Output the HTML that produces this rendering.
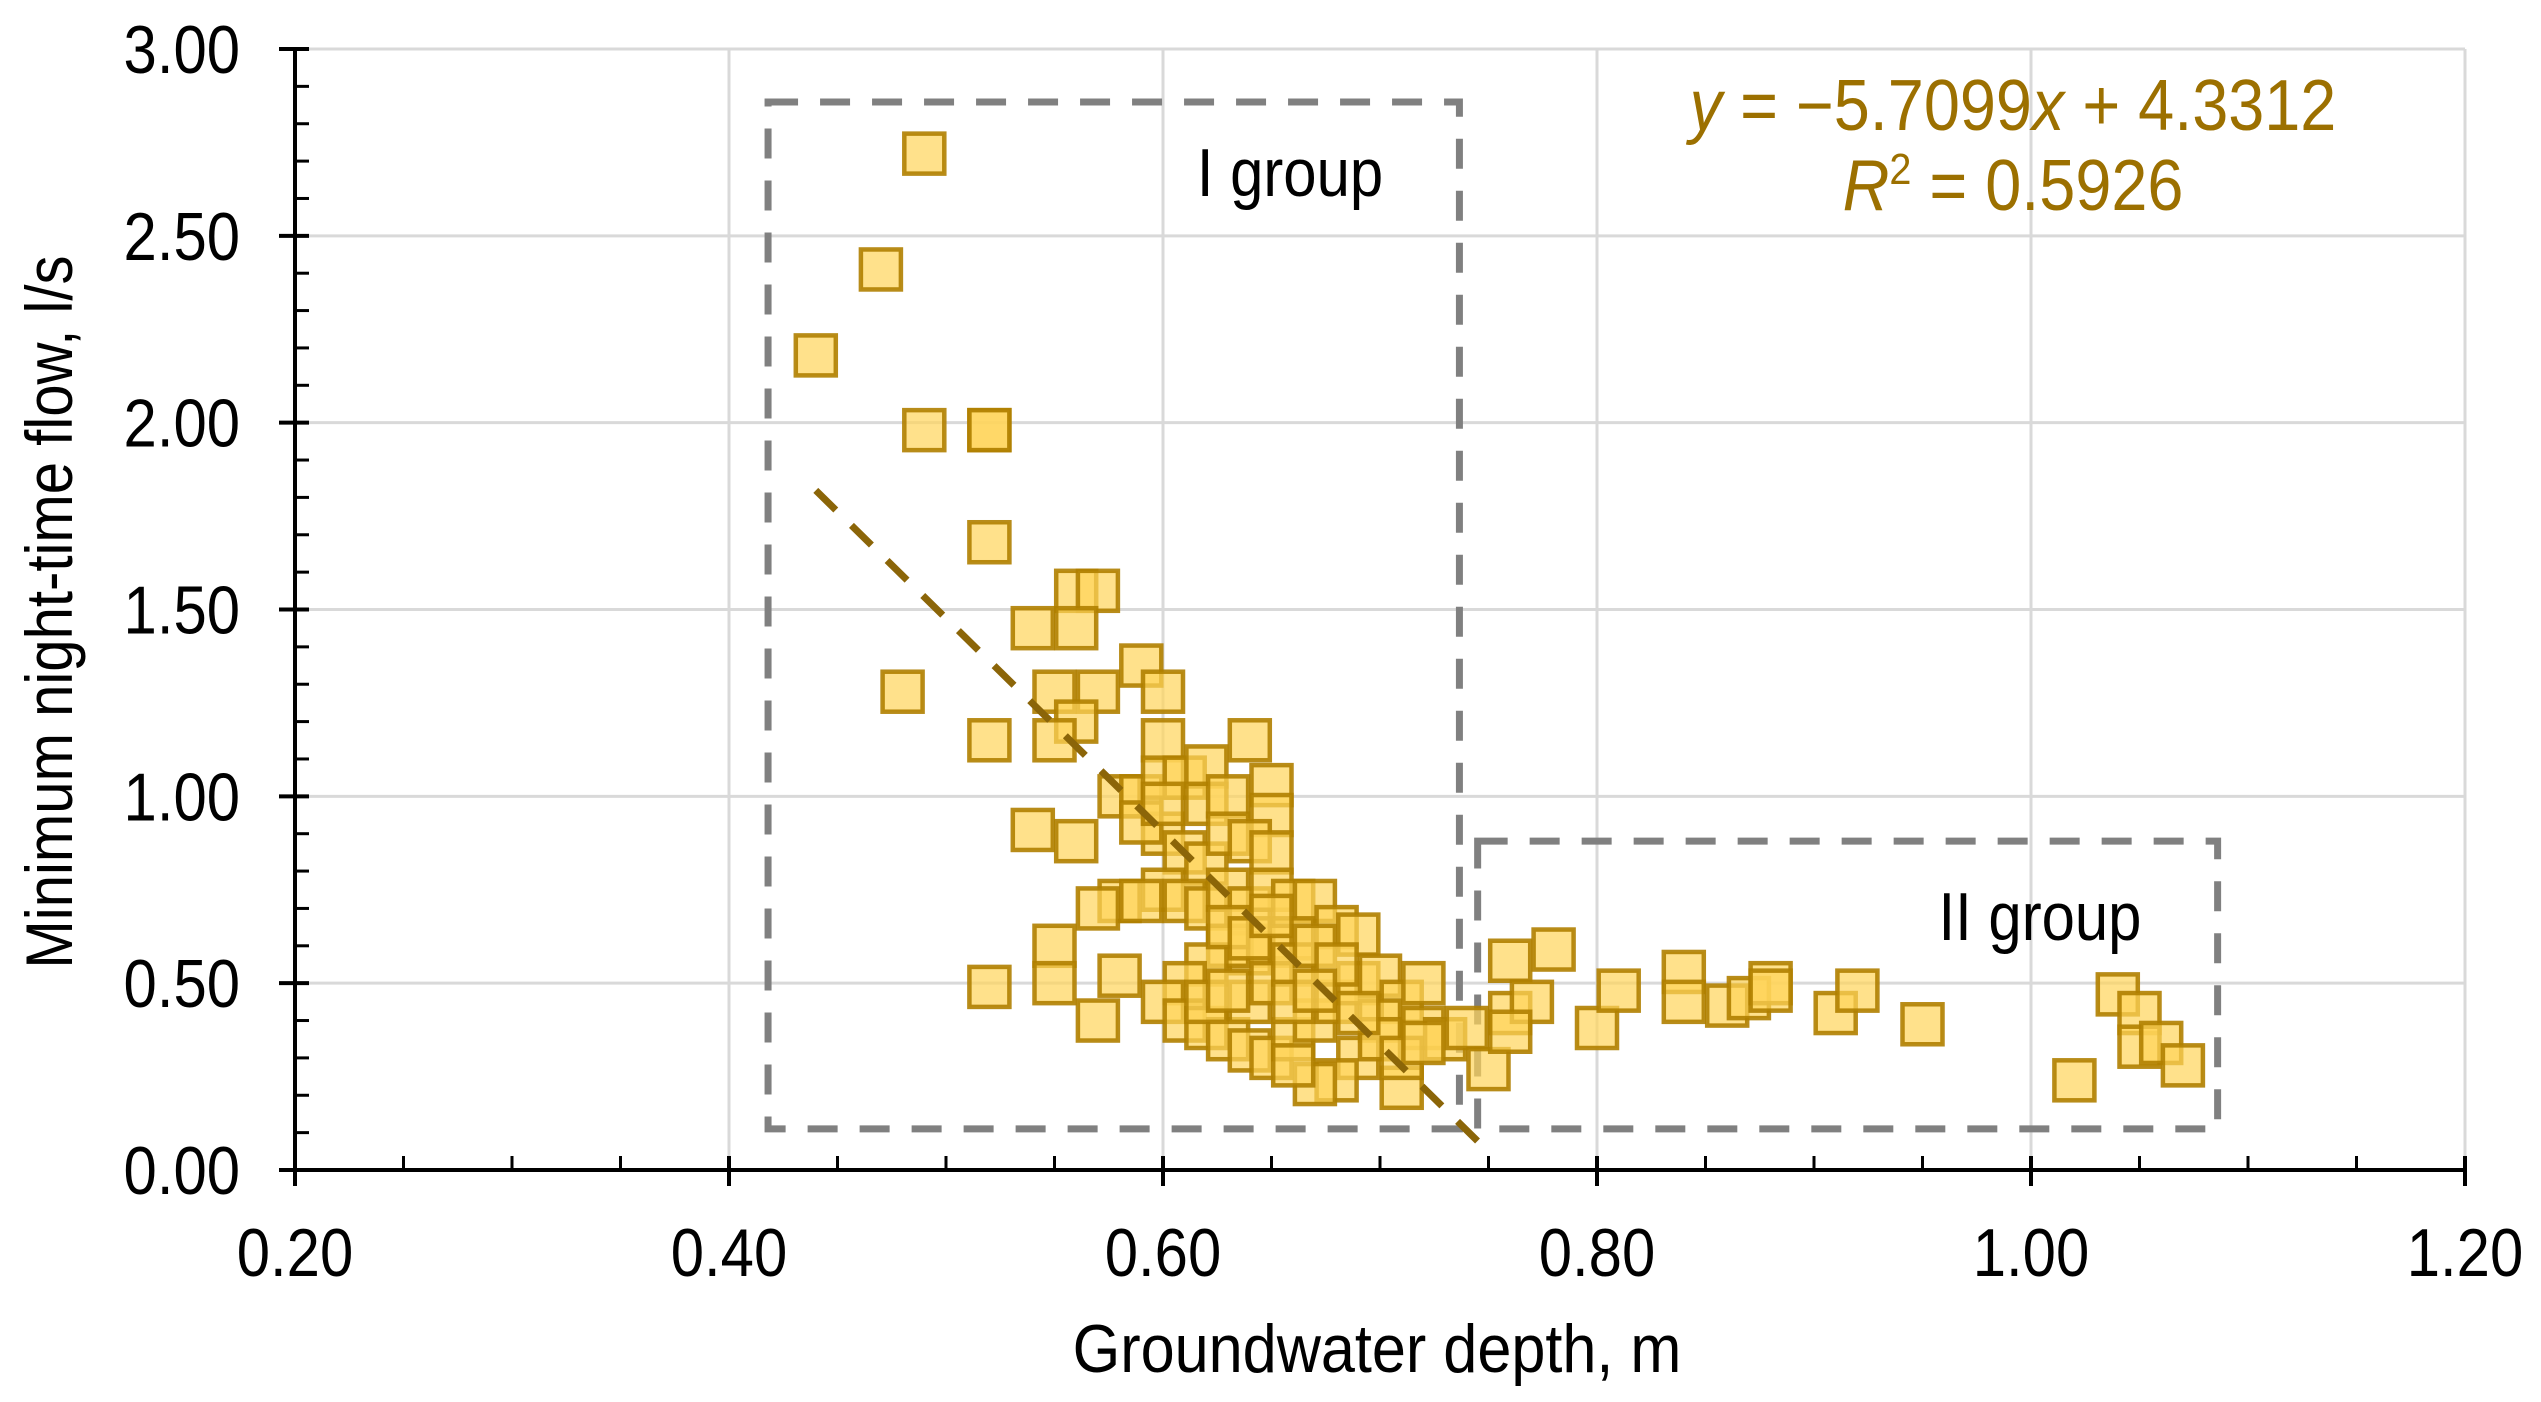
<!DOCTYPE html>
<html><head><meta charset="utf-8"><style>
html,body{margin:0;padding:0;background:#fff;}
svg{display:block;font-family:"Liberation Sans",sans-serif;}
</style></head><body>
<svg id="chart" width="2541" height="1402" viewBox="0 0 2541 1402" xmlns="http://www.w3.org/2000/svg">
<g id="grid"></g>
<g id="boxes"></g>
<g id="points"></g>
<g id="trend"></g>
<g id="axes"></g>
<text font-size="68" text-anchor="middle" fill="#000" transform="translate(1290,196) scale(0.88,1)">I group</text>
<text font-size="68" text-anchor="middle" fill="#000" transform="translate(2040,940) scale(0.88,1)">II group</text>
<text font-size="72" text-anchor="middle" fill="#9C7000" transform="translate(2013,130) scale(0.9,1)"><tspan font-style="italic">y</tspan> = −5.7099<tspan font-style="italic">x</tspan> + 4.3312</text>
<text font-size="72" text-anchor="middle" fill="#9C7000" transform="translate(2013,210) scale(0.9,1)"><tspan font-style="italic">R</tspan><tspan font-size="44" dy="-26">2</tspan><tspan dy="26"> = 0.5926</tspan></text>
<text font-size="68" text-anchor="middle" fill="#000" transform="translate(1377,1372) scale(0.9,1)">Groundwater depth, m</text>
<text font-size="66" text-anchor="middle" fill="#000" transform="translate(72,612) rotate(-90) scale(0.88,1)">Minimum night-time flow, l/s</text>
</svg>
<script>
const xTicks = [0.2,0.4,0.6,0.8,1.0,1.2];
const xTickLabels = ["0.20","0.40","0.60","0.80","1.00","1.20"];
const yTicks = [0,0.5,1,1.5,2,2.5,3];
const yTickLabels = ["0.00","0.50","1.00","1.50","2.00","2.50","3.00"];
const depthX = [0.49,0.47,0.44,0.49,0.52,0.52,0.52,0.56,0.57,0.56,0.54,0.48,0.59,0.60,0.55,0.57,0.56,0.52,0.55,0.60,0.64,0.54,0.56,0.58,0.59,0.60,0.61,0.62,0.62,0.63,0.65,0.65,0.60,0.61,0.62,0.63,0.64,0.65,0.60,0.58,0.57,0.59,0.61,0.62,0.63,0.64,0.65,0.66,0.67,0.68,0.69,0.66,0.65,0.64,0.63,0.62,0.61,0.60,0.61,0.62,0.63,0.64,0.65,0.66,0.67,0.68,0.69,0.70,0.71,0.72,0.73,0.72,0.70,0.69,0.68,0.67,0.71,0.64,0.65,0.66,0.67,0.68,0.62,0.63,0.66,0.67,0.55,0.55,0.52,0.57,0.58,0.74,0.75,0.76,0.76,0.77,0.78,0.76,0.80,0.81,0.84,0.84,0.86,0.87,0.88,0.88,0.91,0.92,0.95,1.02,1.04,1.05,1.05,1.06,1.07,0.59,0.60,0.63,0.64,0.65,0.70,0.71,0.66,0.69,0.72];
const flowY = [2.72,2.41,2.18,1.98,1.98,1.98,1.68,1.55,1.55,1.45,1.45,1.28,1.35,1.28,1.28,1.28,1.20,1.15,1.15,1.15,1.15,0.91,0.88,1.00,1.00,1.05,1.05,1.08,0.98,1.00,1.03,0.95,0.90,0.85,0.82,0.90,0.88,0.85,0.75,0.72,0.70,0.72,0.72,0.70,0.75,0.70,0.75,0.72,0.72,0.65,0.63,0.62,0.60,0.58,0.60,0.55,0.50,0.45,0.40,0.38,0.35,0.32,0.30,0.35,0.40,0.45,0.50,0.52,0.45,0.38,0.35,0.50,0.40,0.30,0.24,0.23,0.22,0.45,0.50,0.55,0.60,0.55,0.45,0.48,0.45,0.48,0.60,0.50,0.49,0.40,0.52,0.38,0.27,0.56,0.42,0.45,0.59,0.37,0.38,0.48,0.53,0.45,0.44,0.46,0.50,0.48,0.42,0.48,0.39,0.24,0.47,0.42,0.33,0.34,0.28,0.93,0.98,0.65,0.62,0.68,0.35,0.30,0.28,0.42,0.34];
const trendSlope = -5.7099, trendIntercept = 4.3312;
const trendRange = [0.44, 0.745];
const groupI = [0.418, 0.7366, 0.11, 2.858];
const groupII = [0.745, 1.086, 0.11, 0.88];

const X0=295, X1=2465, Y0=1170, Y1=49;
const sx = v => X0 + (v-0.2)/(1.2-0.2)*(X1-X0);
const sy = v => Y0 - v/3*(Y0-Y1);
const NS="http://www.w3.org/2000/svg";
function mk(tag, attrs, parent){const e=document.createElementNS(NS,tag);for(const k in attrs)e.setAttribute(k,attrs[k]);parent.appendChild(e);return e;}
const grid=document.getElementById('grid'), axes=document.getElementById('axes');
xTicks.forEach((t,i)=>{ if(i>0){const l=mk('line',{x1:sx(t),x2:sx(t),y1:Y1,y2:Y0,stroke:'#d9d9d9','stroke-width':3},grid);

}
 const tk=mk('line',{x1:sx(t),x2:sx(t),y1:Y0-14,y2:Y0+16,stroke:'#000','stroke-width':4},axes);
 
 
 const tx=mk('text',{'font-size':68,'text-anchor':'middle',fill:'#000',transform:'translate('+sx(t)+',1276) scale(0.88,1)'},axes);tx.textContent=xTickLabels[i];
 
 
});
for(let v=0.25; v<1.2; v+=0.05){ if(Math.abs(v*5-Math.round(v*5))<1e-6) continue;
 const m=mk('line',{x1:sx(v),x2:sx(v),y1:Y0-14,y2:Y0,stroke:'#000','stroke-width':3},axes);
 
 }
yTicks.forEach((t,i)=>{ if(i>0){const l=mk('line',{x1:X0,x2:X1,y1:sy(t),y2:sy(t),stroke:'#d9d9d9','stroke-width':3},grid);

}
 const tk=mk('line',{x1:X0-16,x2:X0+14,y1:sy(t),y2:sy(t),stroke:'#000','stroke-width':4},axes);
 
 
 const tx=mk('text',{'font-size':68,'text-anchor':'end',fill:'#000',transform:'translate(240,'+(sy(t)+24)+') scale(0.88,1)'},axes);tx.textContent=yTickLabels[i];
 
 
});
for(let k=1;k<30;k++){ if(k%5===0) continue;
 const m=mk('line',{x1:X0,x2:X0+14,y1:sy(k/10),y2:sy(k/10),stroke:'#000','stroke-width':3},axes);
 
 }
const xa=mk('line',{x1:X0,x2:X1,y1:Y0,y2:Y0,stroke:'#000','stroke-width':4},axes);


const ya=mk('line',{x1:X0,x2:X0,y1:Y1,y2:Y0,stroke:'#000','stroke-width':4},axes);



const boxes=document.getElementById('boxes');
[[groupI,'group-i-box'],[groupII,'group-ii-box']].forEach(([b,n])=>{
 const r=mk('rect',{x:sx(b[0]),y:sy(b[3]),width:sx(b[1])-sx(b[0]),height:sy(b[2])-sy(b[3]),fill:'none',stroke:'#808080','stroke-width':7,'stroke-dasharray':'30 22'},boxes);
 
 
});
const pts=document.getElementById('points');
const S=40;
depthX.forEach((x,i)=>{
 const r=mk('rect',{x:sx(x)-S/2,y:sy(flowY[i])-S/2,width:S,height:S,fill:'rgba(255,212,90,0.7)',stroke:'rgba(176,128,0,0.9)','stroke-width':4.5},pts);
 
 
});
const tr=document.getElementById('trend');
const tl=mk('line',{x1:sx(trendRange[0]),y1:sy(trendSlope*trendRange[0]+trendIntercept),x2:sx(trendRange[1]),y2:sy(trendSlope*trendRange[1]+trendIntercept),stroke:'#8B6508','stroke-width':7,'stroke-dasharray':'28 22'},tr);


</script>
</body></html>
